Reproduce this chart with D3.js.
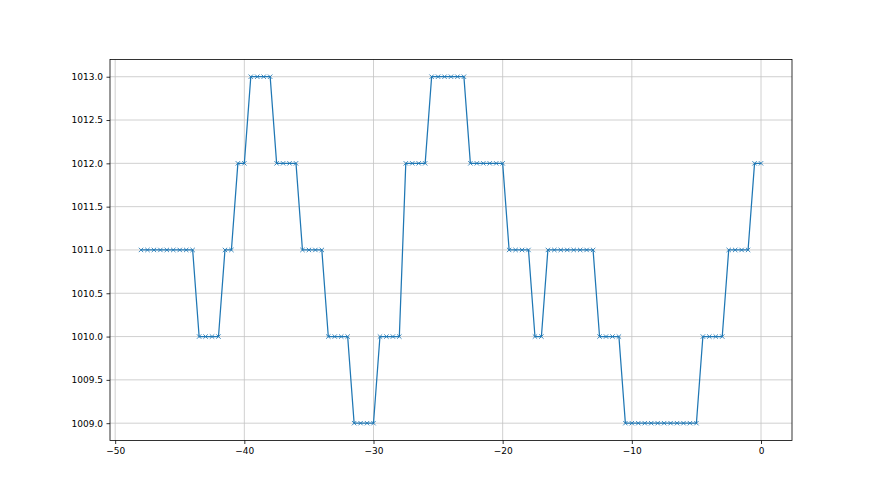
<!DOCTYPE html>
<html>
<head>
<meta charset="utf-8">
<script src="https://cdn.jsdelivr.net/npm/d3@7"></script>
<style>
  body { margin: 0; background: #fff; }
  text { font-family: "DejaVu Sans", sans-serif; }
</style>
</head>
<body>
<svg id="chart"></svg>
<script>
// data
var xValues = [
  -48, -47.5, -47, -46.5, -46, -45.5, -45, -44.5, -44,
  -43.5, -43, -42.5, -42,
  -41.5, -41,
  -40.5, -40,
  -39.5, -39, -38.5, -38,
  -37.5, -37, -36.5, -36,
  -35.5, -35, -34.5, -34,
  -33.5, -33, -32.5, -32,
  -31.5, -31, -30.5, -30,
  -29.5, -29, -28.5, -28,
  -27.5, -27, -26.5, -26,
  -25.5, -25, -24.5, -24, -23.5, -23,
  -22.5, -22, -21.5, -21, -20.5, -20,
  -19.5, -19, -18.5, -18,
  -17.5, -17,
  -16.5, -16, -15.5, -15, -14.5, -14, -13.5, -13,
  -12.5, -12, -11.5, -11,
  -10.5, -10, -9.5, -9, -8.5, -8, -7.5, -7, -6.5, -6, -5.5, -5,
  -4.5, -4, -3.5, -3,
  -2.5, -2, -1.5, -1,
  -0.5, 0
];
var pressure = [
  1011, 1011, 1011, 1011, 1011, 1011, 1011, 1011, 1011,
  1010, 1010, 1010, 1010,
  1011, 1011,
  1012, 1012,
  1013, 1013, 1013, 1013,
  1012, 1012, 1012, 1012,
  1011, 1011, 1011, 1011,
  1010, 1010, 1010, 1010,
  1009, 1009, 1009, 1009,
  1010, 1010, 1010, 1010,
  1012, 1012, 1012, 1012,
  1013, 1013, 1013, 1013, 1013, 1013,
  1012, 1012, 1012, 1012, 1012, 1012,
  1011, 1011, 1011, 1011,
  1010, 1010,
  1011, 1011, 1011, 1011, 1011, 1011, 1011, 1011,
  1010, 1010, 1010, 1010,
  1009, 1009, 1009, 1009, 1009, 1009, 1009, 1009, 1009, 1009, 1009, 1009,
  1010, 1010, 1010, 1010,
  1011, 1011, 1011, 1011,
  1012, 1012
];
var xTicks = [-50, -40, -30, -20, -10, 0];
var yTicks = [1009.0, 1009.5, 1010.0, 1010.5, 1011.0, 1011.5, 1012.0, 1012.5, 1013.0];

var width = 880, height = 495;
var margin = {left: 110, right: 88, top: 59.4, bottom: 54.5};
var plotW = width - margin.left - margin.right;
var plotH = height - margin.top - margin.bottom;

var data = xValues.map(function(x, i) { return {x: x, y: pressure[i]}; });

var svg = d3.select('#chart')
    .attr('width', width)
    .attr('height', height);

var xScale = d3.scaleLinear().domain([-50.4, 2.4]).range([margin.left, margin.left + plotW]);
var yScale = d3.scaleLinear().domain([1008.8, 1013.2]).range([margin.top + plotH, margin.top]);

// grid lines
var grid = svg.append('g').attr('class', 'grid');
grid.selectAll('.gx')
    .data(xTicks)
    .enter().append('line')
    .attr('x1', function(d) { return xScale(d); })
    .attr('x2', function(d) { return xScale(d); })
    .attr('y1', margin.top)
    .attr('y2', margin.top + plotH)
    .attr('stroke', '#c4c4c4')
    .attr('stroke-width', 0.8);
grid.selectAll('.gy')
    .data(yTicks)
    .enter().append('line')
    .attr('x1', margin.left)
    .attr('x2', margin.left + plotW)
    .attr('y1', function(d) { return yScale(d); })
    .attr('y2', function(d) { return yScale(d); })
    .attr('stroke', '#c4c4c4')
    .attr('stroke-width', 0.8);

// the line
var line = d3.line()
    .x(function(d) { return xScale(d.x); })
    .y(function(d) { return yScale(d.y); });

svg.append('path')
    .datum(data)
    .attr('fill', 'none')
    .attr('stroke', '#1f77b4')
    .attr('stroke-width', 1.25)
    .attr('stroke-linejoin', 'round')
    .attr('d', line);

// x markers
var m = 2.2;
svg.append('g').selectAll('path.marker')
    .data(data)
    .enter().append('path')
    .attr('class', 'marker')
    .attr('d', function(d) {
        var cx = xScale(d.x), cy = yScale(d.y);
        return 'M' + (cx - m) + ',' + (cy - m) + 'L' + (cx + m) + ',' + (cy + m) +
               'M' + (cx - m) + ',' + (cy + m) + 'L' + (cx + m) + ',' + (cy - m);
    })
    .attr('stroke', '#1f77b4')
    .attr('stroke-opacity', 0.85)
    .attr('stroke-width', 1);

// axes
var fmtX = function(d) { return d3.format('d')(d).replace('-', '\u2212'); };
var xAxis = d3.axisBottom(xScale).tickValues(xTicks).tickFormat(fmtX).tickSize(3.5).tickPadding(3.5);
var yAxis = d3.axisLeft(yScale).tickValues(yTicks).tickFormat(d3.format('.1f')).tickSize(3.5).tickPadding(3.5);

var gx = svg.append('g')
    .attr('transform', 'translate(0,' + (margin.top + plotH) + ')')
    .call(xAxis);
var gy = svg.append('g')
    .attr('transform', 'translate(' + margin.left + ',0)')
    .call(yAxis);

[gx, gy].forEach(function(g) {
    g.select('.domain').remove();
    g.selectAll('line').attr('stroke', '#000').attr('stroke-width', 0.8);
    g.selectAll('text')
        .attr('fill', '#000')
        .style('font-size', '9px')
        .style('font-family', '"DejaVu Sans", sans-serif');
});

// frame
svg.append('rect')
    .attr('x', margin.left)
    .attr('y', margin.top)
    .attr('width', plotW)
    .attr('height', plotH)
    .attr('fill', 'none')
    .attr('stroke', '#000')
    .attr('stroke-width', 0.8);
</script>
</body>
</html>
